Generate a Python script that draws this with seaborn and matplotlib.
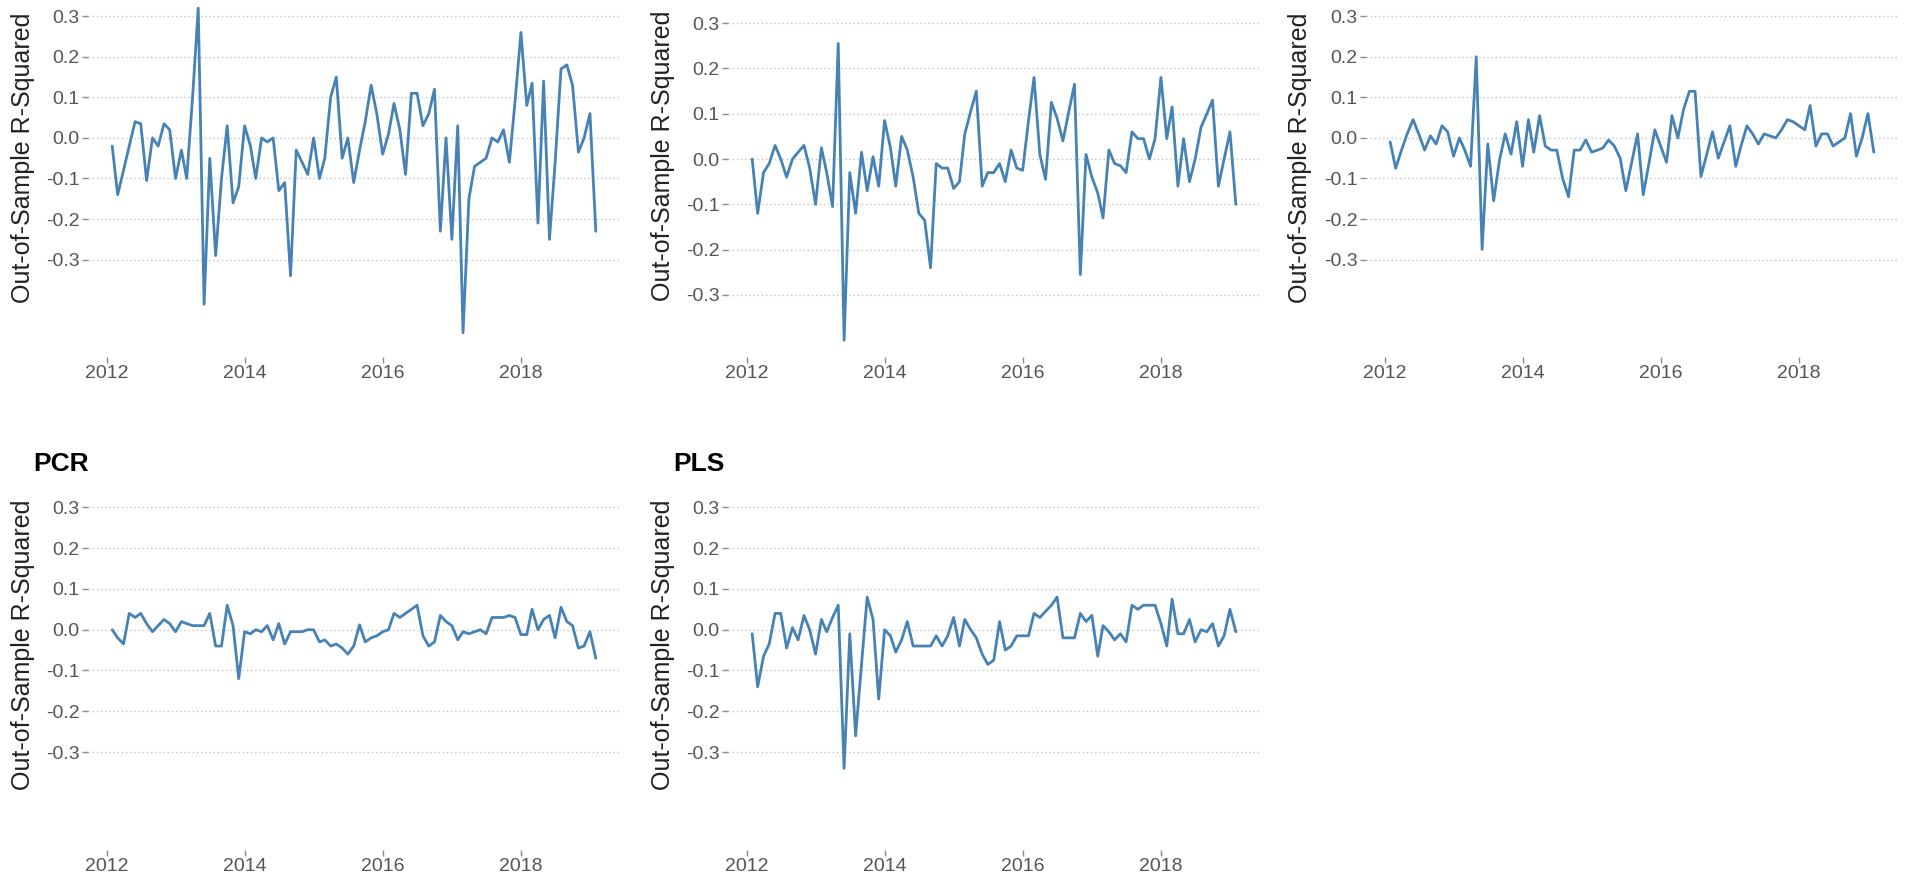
import numpy as np
import pandas as pd
import matplotlib
matplotlib.use("Agg")
import matplotlib.pyplot as plt
import matplotlib.dates as mdates
import seaborn as sns

# ---------------- data ----------------
# monthly (month-end) out-of-sample R-squared, Jan 2012 .. Jan 2019
dates = pd.date_range("2012-02-01", periods=85, freq="MS") - pd.Timedelta(days=1)

r2_top_left = [-0.02, -0.14, -0.08, -0.02, 0.04, 0.035, -0.105, 0.0, -0.02, 0.035,
               0.02, -0.10, -0.03, -0.10, 0.10, 0.32, -0.41, -0.05, -0.29, -0.10,
               0.03, -0.16, -0.12, 0.03, -0.02, -0.10, 0.00, -0.01, 0.00, -0.13,
               -0.11, -0.34, -0.03, -0.06, -0.09, 0.00, -0.10, -0.05, 0.10, 0.15,
               -0.05, 0.00, -0.11, -0.03, 0.04, 0.13, 0.06, -0.04, 0.01, 0.085,
               0.02, -0.09, 0.11, 0.11, 0.03, 0.06, 0.12, -0.23, 0.00, -0.25,
               0.03, -0.48, -0.15, -0.07, -0.06, -0.05, 0.00, -0.01, 0.02, -0.06,
               0.09, 0.26, 0.08, 0.135, -0.21, 0.14, -0.25, -0.06, 0.17, 0.18,
               0.13, -0.035, 0.00, 0.06, -0.23]

r2_top_middle = [0.0, -0.12, -0.03, -0.01, 0.03, 0.0, -0.04, 0.0, 0.015, 0.03,
                 -0.02, -0.10, 0.025, -0.03, -0.105, 0.255, -0.40, -0.03, -0.12, 0.015,
                 -0.07, 0.005, -0.06, 0.085, 0.025, -0.06, 0.05, 0.02, -0.04, -0.12,
                 -0.135, -0.24, -0.01, -0.02, -0.02, -0.065, -0.05, 0.055, 0.105, 0.15,
                 -0.06, -0.03, -0.03, -0.01, -0.05, 0.02, -0.02, -0.025, 0.085, 0.18,
                 0.01, -0.045, 0.125, 0.09, 0.04, 0.105, 0.165, -0.255, 0.01, -0.04,
                 -0.075, -0.13, 0.02, -0.01, -0.015, -0.03, 0.06, 0.045, 0.045, 0.0,
                 0.045, 0.18, 0.045, 0.115, -0.06, 0.045, -0.05, 0.0, 0.07, 0.10,
                 0.13, -0.06, 0.0, 0.06, -0.10]

r2_top_right = [-0.01, -0.075, -0.03, 0.01, 0.045, 0.01, -0.03, 0.005, -0.015, 0.03,
                0.015, -0.045, 0.0, -0.03, -0.07, 0.20, -0.275, -0.015, -0.155, -0.055,
                0.01, -0.04, 0.04, -0.07, 0.045, -0.035, 0.055, -0.02, -0.03, -0.03,
                -0.10, -0.145, -0.03, -0.03, -0.005, -0.035, -0.03, -0.025, -0.005, -0.02,
                -0.05, -0.13, -0.06, 0.01, -0.14, -0.06, 0.02, -0.02, -0.06, 0.055,
                0.0, 0.07, 0.115, 0.115, -0.095, -0.04, 0.015, -0.05, -0.01, 0.03,
                -0.07, -0.02, 0.03, 0.01, -0.015, 0.01, 0.005, 0.0, 0.02, 0.045,
                0.04, 0.03, 0.02, 0.08, -0.02, 0.01, 0.01, -0.02, -0.01, 0.0,
                0.06, -0.045, 0.0, 0.06, -0.035]

r2_pcr = [0.0, -0.02, -0.035, 0.04, 0.03, 0.04, 0.015, -0.005, 0.01, 0.025,
          0.015, -0.005, 0.02, 0.015, 0.01, 0.01, 0.01, 0.04, -0.04, -0.04,
          0.06, 0.01, -0.12, -0.005, -0.01, 0.0, -0.005, 0.01, -0.025, 0.015,
          -0.035, -0.005, -0.005, -0.005, 0.0, 0.0, -0.03, -0.025, -0.04, -0.035,
          -0.045, -0.06, -0.04, 0.012, -0.03, -0.02, -0.015, -0.005, 0.0, 0.04,
          0.03, 0.04, 0.05, 0.06, -0.015, -0.04, -0.03, 0.035, 0.02, 0.01,
          -0.025, -0.005, -0.01, -0.005, 0.0, -0.01, 0.03, 0.03, 0.03, 0.035,
          0.03, -0.012, -0.012, 0.05, 0.0, 0.025, 0.035, -0.02, 0.055, 0.02,
          0.01, -0.045, -0.04, -0.005, -0.07]

r2_pls = [-0.01, -0.14, -0.065, -0.035, 0.04, 0.04, -0.045, 0.005, -0.025, 0.035,
          0.0, -0.06, 0.025, -0.005, 0.03, 0.06, -0.34, -0.01, -0.26, -0.085,
          0.08, 0.025, -0.17, 0.0, -0.015, -0.055, -0.025, 0.02, -0.04, -0.04,
          -0.04, -0.04, -0.015, -0.04, -0.015, 0.03, -0.04, 0.025, 0.0, -0.02,
          -0.06, -0.085, -0.075, 0.02, -0.05, -0.04, -0.015, -0.015, -0.015, 0.04,
          0.03, 0.045, 0.06, 0.08, -0.02, -0.02, -0.02, 0.04, 0.02, 0.035,
          -0.065, 0.01, -0.005, -0.025, -0.01, -0.03, 0.06, 0.05, 0.06, 0.06,
          0.06, 0.015, -0.04, 0.075, -0.01, -0.01, 0.025, -0.03, 0.0, -0.005,
          0.015, -0.04, -0.015, 0.05, -0.005]

y_breaks = [-0.3, -0.2, -0.1, 0.0, 0.1, 0.2, 0.3]
y_labels = ["-0.3", "-0.2", "-0.1", "0.0", "0.1", "0.2", "0.3"]
y_title = "Out-of-Sample R-Squared"

# ---------------- style ----------------
sns.set_theme(style="white")
plt.rcParams["font.family"] = ["Liberation Sans", "DejaVu Sans"]
plt.rcParams["axes.unicode_minus"] = False

W, H = 1910, 888
fig = plt.figure(figsize=(W / 100, H / 100), dpi=100)
fig.patch.set_facecolor("white")

cols = [(88, 620), (728, 1260), (1366, 1898)]
rows = [(0, 357), (491, 850)]

panels = [
    dict(values=r2_top_left, col=0, row=0, title=None, ylim=(-0.54, 0.34), lab=(23, 158)),
    dict(values=r2_top_middle, col=1, row=0, title=None, ylim=(-0.437, 0.351), lab=(663, 156)),
    dict(values=r2_top_right, col=2, row=0, title=None, ylim=(-0.54, 0.34), lab=(1300, 158)),
    dict(values=r2_pcr, col=0, row=1, title="PCR", ylim=(-0.54, 0.34), lab=(23, 645)),
    dict(values=r2_pls, col=1, row=1, title="PLS", ylim=(-0.54, 0.34), lab=(663, 645)),
]

xpad = (dates[-1] - dates[0]) * 0.05

for p in panels:
    l, r = cols[p["col"]]
    t, b = rows[p["row"]]
    ax = fig.add_axes([l / W, 1 - b / H, (r - l) / W, (b - t) / H])
    df = pd.DataFrame({"date": dates, "r2": p["values"]})
    sns.lineplot(data=df, x="date", y="r2", ax=ax, color="#4682B4", linewidth=2.0)

    ax.set_xlim(dates[0] - xpad, dates[-1] + xpad)
    ax.set_ylim(*p["ylim"])
    ax.set_yticks(y_breaks)
    ax.set_yticklabels(y_labels)
    ax.xaxis.set_major_locator(mdates.YearLocator(2))
    ax.xaxis.set_major_formatter(mdates.DateFormatter("%Y"))

    ax.grid(False)
    ax.grid(axis="y", linestyle=(0, (1, 2)), color="#c4c4c4", linewidth=1.0)
    for s in ax.spines.values():
        s.set_visible(False)
    ax.set_facecolor("white")
    ax.tick_params(axis="both", which="major", bottom=True, left=True, length=4, width=1,
                   color="#8a8a8a", labelcolor="#555555", labelsize=14, pad=2)

    ax.set_xlabel("")
    ax.set_ylabel(y_title, fontsize=18, color="#222222", va="center", ha="center")
    cx, cy = p["lab"]
    ax.yaxis.set_label_coords((cx - l) / (r - l), (b - cy) / (b - t))

    if p["title"]:
        title_left = l - 55  # title starts a little left of the y-axis title
        ax.text((title_left - l) / (r - l), (b - 464) / (b - t), p["title"],
                transform=ax.transAxes, fontsize=19, fontweight="bold",
                color="black", ha="left", va="center")

fig.savefig("out.png", dpi=100, facecolor="white")
